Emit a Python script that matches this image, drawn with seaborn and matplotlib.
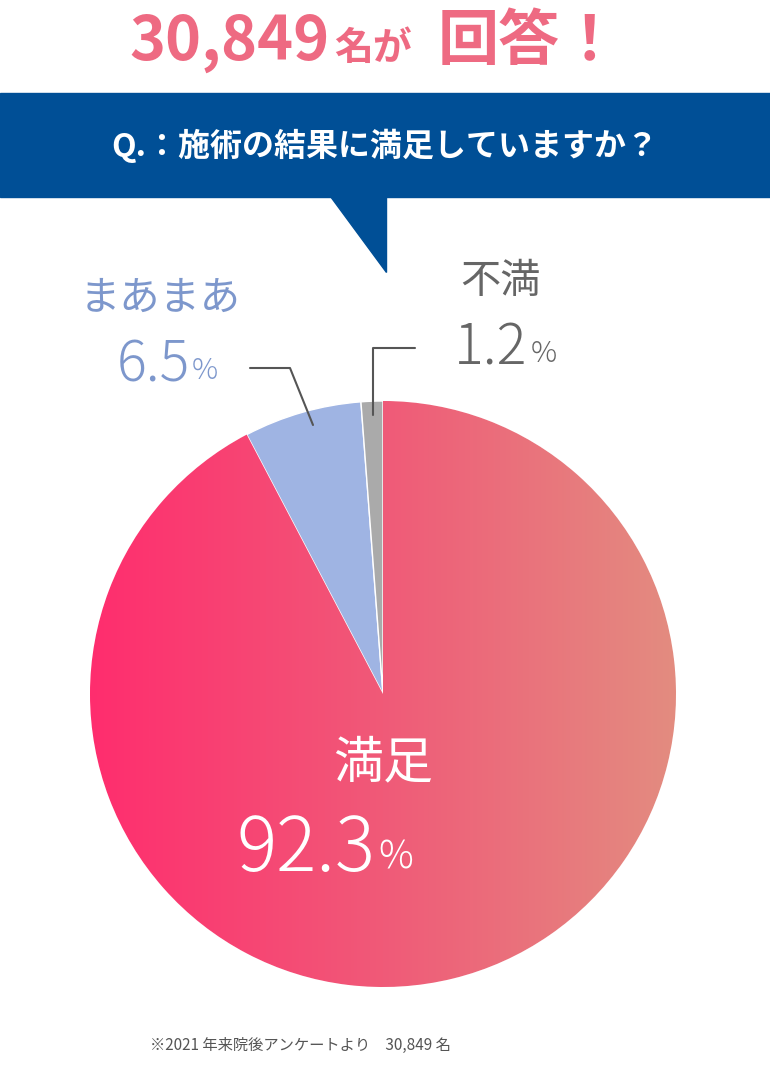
import numpy as np
import matplotlib
matplotlib.use("Agg")
import matplotlib.pyplot as plt
from matplotlib.patches import Polygon, Rectangle
import seaborn as sns

labels = ["満足", "まあまあ", "不満"]
shares = [92.3, 6.5, 1.2]
colors = ["#F25A78", "#9FB4E3", "#AAAAAA"]
respondents = "30,849"

sns.set_theme(style="white", font="Noto Sans CJK JP")
W, H = 770, 1072
fig = plt.figure(figsize=(W / 100, H / 100), dpi=100)
ax = fig.add_axes([0, 0, 1, 1])
ax.set_xlim(0, W)
ax.set_ylim(0, H)
ax.set_aspect("equal")
ax.axis("off")

def Y(py):
    return H - py

cx, cy, r = 383, 694, 293
wedges, _ = ax.pie(shares, colors=colors, startangle=90, counterclock=False,
                   center=(cx, Y(cy)), radius=r, frame=True)
ax.set_xlim(0, W)
ax.set_ylim(0, H)
ax.axis("off")

# horizontal gradient on the main wedge
grad = np.linspace(0, 1, 256).reshape(1, -1)
cmap = matplotlib.colors.LinearSegmentedColormap.from_list("g", ["#FF2D6E", "#F05A78", "#E38C80"])
im = ax.imshow(grad, cmap=cmap, extent=(cx - r, cx + r, Y(cy + r), Y(cy - r)), aspect="auto", zorder=wedges[0].get_zorder() + 0.1)
im.set_clip_path(wedges[0])

# title
ax.text(330, Y(42), respondents, ha="right", va="center", fontsize=44, fontweight="bold", color="#EE6A82")
ax.text(334, Y(48), "名が", ha="left", va="center", fontsize=28, fontweight="bold", color="#EE6A82")
ax.text(438, Y(42), "回答！", ha="left", va="center", fontsize=44, fontweight="bold", color="#EE6A82")

# banner with pointer
ax.add_patch(Rectangle((0, Y(197)), W, 104, color="#004F96", zorder=3))
ax.add_patch(Polygon([(330, Y(196)), (386, Y(196)), (386, Y(272))], color="#004F96", zorder=3))
ax.text(385, Y(146), "Q.：施術の結果に満足していますか？", ha="center", va="center",
        fontsize=23, fontweight="bold", color="white", zorder=4)

# labels
ax.text(383, Y(763), labels[0], ha="center", va="center", fontsize=36, color="white", zorder=5)
ax.text(375, Y(850), "92.3", ha="right", va="center", fontsize=54, fontweight="light", color="white", zorder=5)
ax.text(378, Y(858), "%", ha="left", va="center", fontsize=28, fontweight="light", color="white", zorder=5)

ax.text(160, Y(298), labels[1], ha="center", va="center", fontsize=29, color="#7D97CC")
ax.text(190, Y(365), "6.5", ha="right", va="center", fontsize=40, fontweight="light", color="#7D97CC")
ax.text(192, Y(371), "%", ha="left", va="center", fontsize=21, fontweight="light", color="#7D97CC")
ax.plot([250, 290, 313], [Y(368), Y(368), Y(425)], color="#555555", lw=1.5)

ax.text(500, Y(282), labels[2], ha="center", va="center", fontsize=29, color="#666666")
ax.text(527, Y(348), "1.2", ha="right", va="center", fontsize=40, fontweight="light", color="#666666")
ax.text(531, Y(354), "%", ha="left", va="center", fontsize=21, fontweight="light", color="#666666")
ax.plot([415, 373, 373], [Y(348), Y(348), Y(415)], color="#555555", lw=1.5)

ax.text(300, Y(1045), "※2021 年来院後アンケートより　" + respondents + " 名", ha="center", va="center",
        fontsize=11, color="#555555")

fig.savefig("out.png", dpi=100)
